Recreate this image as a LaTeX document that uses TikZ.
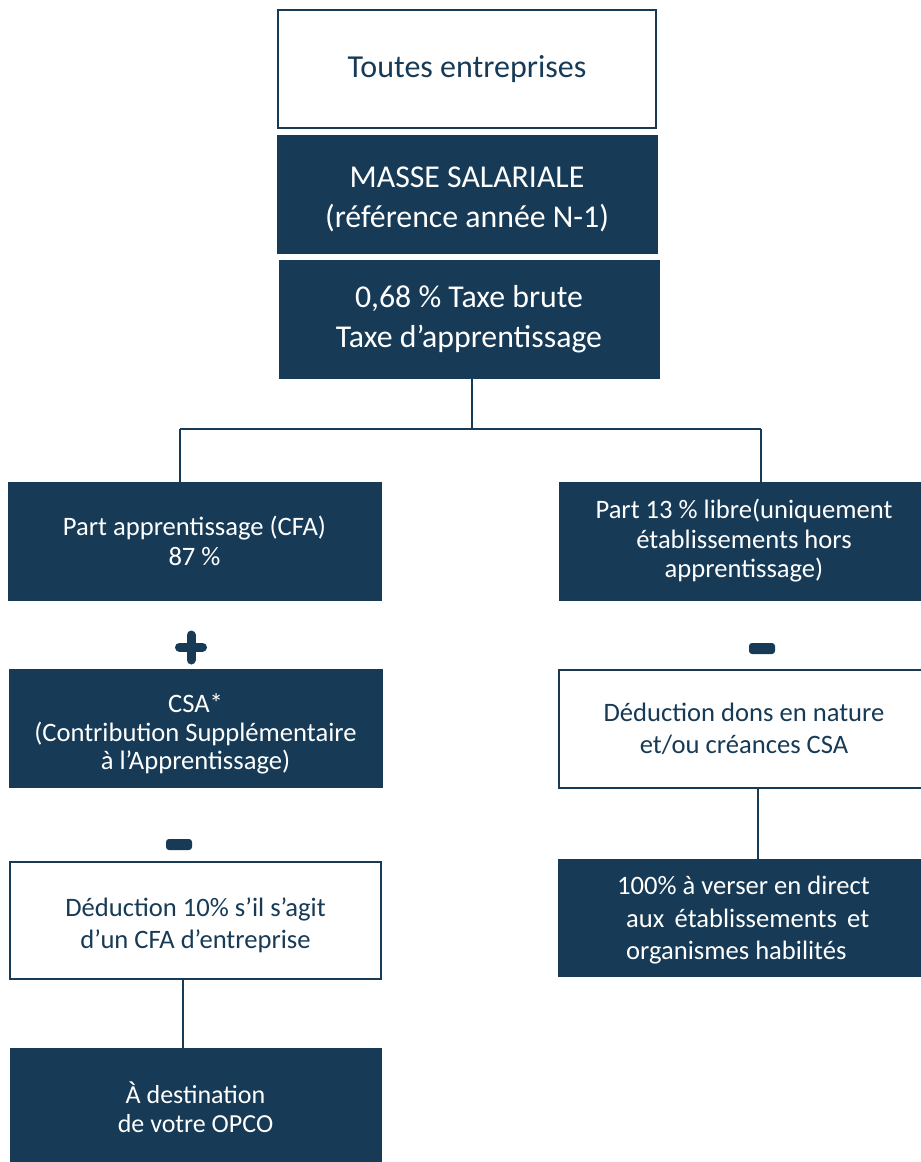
\documentclass[tikz,border=0pt]{standalone}
\usepackage{fontspec}
\setmainfont{Carlito}
\definecolor{navy}{RGB}{23,59,86}
\begin{document}
\begin{tikzpicture}[x=1pt,y=-1pt,
  darkbox/.style={fill=navy, draw=navy, line width=1pt, text=white, align=center, inner sep=0pt},
  lightbox/.style={fill=white, draw=navy, line width=1.5pt, text=navy, align=center, inner sep=0pt},
  wtxt/.style={text=white, align=center, inner sep=0pt},
  ntxt/.style={text=navy, align=center, inner sep=0pt},
  link/.style={draw=navy, line width=2pt},
  sign/.style={fill=navy, rounded corners=3pt},
  big/.style={font=\fontsize{32}{39}\selectfont},
  body/.style={font=\fontsize{26.6}{32.5}\selectfont}]
\useasboundingbox[fill=white] (0,0) rectangle (921,1162);

\node[lightbox, big, minimum width=378pt, minimum height=118pt] (top) at (467,69)
  {Toutes entreprises};
\node[darkbox, minimum width=380pt, minimum height=118pt] (masse) at (467,194) {};
\node[wtxt, font=\fontsize{31.8}{40}\selectfont] (massetxt) at ([yshift=-5pt]masse.center)
  {MASSE SALARIALE\\(référence année N-1)};
\node[darkbox, font=\fontsize{31.8}{40}\selectfont, minimum width=380pt, minimum height=118pt] (taxe) at (469,319)
  {0,68 \% Taxe brute\\Taxe d’apprentissage};

\node[darkbox, font=\fontsize{26.6}{30}\selectfont, minimum width=373pt, minimum height=118pt] (part) at (194.5,541)
  {Part apprentissage (CFA)\\87 \%};
\node[darkbox, minimum width=373pt, minimum height=118pt] (csa) at (195.5,728) {};
\node[wtxt, font=\fontsize{26.6}{28.5}\selectfont] (csatxt) at ([yshift=-6pt]csa.center)
  {CSA*\\(Contribution Supplémentaire\\à l’Apprentissage)};
\node[lightbox, minimum width=371pt, minimum height=117pt] (ded) at (195.5,920.5) {};
\node[ntxt, body] (dedtxt) at ([yshift=-5pt]ded.center)
  {Déduction 10\% s’il s’agit\\d’un CFA d’entreprise};
\node[darkbox, font=\fontsize{26}{29.5}\selectfont, minimum width=371pt, minimum height=118pt] (dest) at (195.5,1107)
  {À destination\\de votre OPCO};

\node[darkbox, font=\fontsize{26.6}{29.5}\selectfont, minimum width=370pt, minimum height=118pt] (libre) at (744,541)
  {Part 13 \% libre(uniquement\\établissements hors\\apprentissage)};
\node[lightbox, body, minimum width=370pt, minimum height=118pt] (dons) at (744,729)
  {Déduction dons en nature\\et/ou créances CSA};
\node[darkbox, minimum width=371pt, minimum height=117pt] (verser) at (743.5,917.5) {};
\node[wtxt, align=left, body] (versertxt) at ([yshift=-3pt]verser.center)
  {100\% à verser en direct\\
   \hspace*{9pt}\makebox[243pt][s]{aux établissements et}\\
   \hspace*{9pt}organismes habilités};

\coordinate (j) at (472,429);
\coordinate (jl) at (180,429);
\coordinate (jr) at (761,429);
\coordinate (cl) at (183,0);
\coordinate (cr) at (758,0);
\draw[link] (taxe.south -| j) -- (j);
\draw[link] (jl) -- (jr);
\draw[link] (jl) -- (jl |- part.north);
\draw[link] (jr) -- (jr |- libre.north);
\draw[link] (ded.south -| cl) -- (dest.north -| cl);
\draw[link] (dons.south -| cr) -- (verser.north -| cr);

% plus sign
\draw[navy, line width=9pt, line cap=round] (191,635) -- (191,660) (179.5,647) -- (202.5,647);
% minus signs
\fill[sign] (166,839) rectangle (192,850);
\fill[sign] (749,643) rectangle (775,654);
\end{tikzpicture}
\end{document}
